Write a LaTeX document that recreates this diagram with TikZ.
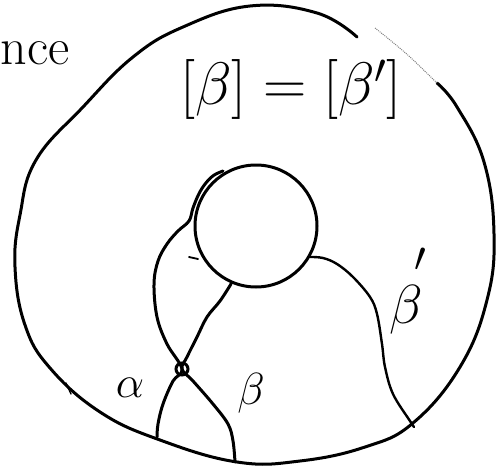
\RequirePackage{fix-cm}
\documentclass[tikz,border=0pt]{standalone}
\begin{document}
\begin{tikzpicture}[x=1pt,y=-1pt,
  stroke/.style={line width=3pt, line cap=round, line join=round},
  thinstroke/.style={line width=2.4pt, line cap=round, line join=round},
  faint/.style={line width=1pt, gray, densely dotted},
  lbl/.style={inner sep=0pt, outer sep=0pt}]
\useasboundingbox (0,0) rectangle (500,468);
% outer boundary
\draw[stroke] plot[smooth, tension=0.7] coordinates {
 (357,37) (317,13) (250,6) (183,27) (133,57) (83,107) (36,160) (20,215)
 (15,267) (25,325) (50,368) (100,412) (160,440) (237,462) (300,461)
 (365,447) (413,423) (460,367) (487,300) (494,234) (484,162) (457,107) (437,83)};
\draw[faint] plot[smooth] coordinates {(437,83) (410,57) (390,40) (375,28)};
\draw[line width=1.4pt, line cap=round] (66,383) -- (71,394);
% inner hole
\node[circle, draw, stroke, minimum size=122pt, inner sep=0pt] (hole) at (256,226) {};
\draw[line width=1.8pt, line cap=round] (198,259) -- (189,257);
% crossing point
\node[circle, draw, line width=3pt, minimum size=12pt, inner sep=0pt] (x) at (182,369) {};
% alpha
\draw[stroke] plot[smooth, tension=0.6] coordinates {
 (157,437) (158,424) (163,404) (173,381) (x.center) (167,344) (157,317)
 (154,284) (158,261) (167,244) (178,231) (189,221) (193,208) (198.8,194)
 (205.4,183.6) (213.6,175.4) (223,171)};
% beta
\draw[stroke] plot[smooth, tension=0.6] coordinates {
 (235,462) (233,441) (228,424) (213,404) (193,381) (x.center) (187,357)
 (197,337) (207,317) (220,301) (231,284)};
% beta'
\draw[thinstroke] plot[smooth, tension=0.6] coordinates {
 (310,257) (323,258) (337,264) (353,277) (370,297) (377,314) (382,344)
 (385,367) (393,394) (410,421) (414,427)};
% labels
\node[lbl, anchor=base west] (nce) at (1,65) {\fontsize{52}{56}\selectfont nce};
\node[lbl, anchor=base] (eq) at (291,105) {\fontsize{60}{70}\selectfont$[\beta]=[\beta']$};
\node[lbl] (la) at (130,388) {\fontsize{45}{50}\selectfont$\alpha$};
\node[lbl] (lb) at (251,393) {\fontsize{45}{50}\selectfont$\beta$};
\node[lbl] (lbp) at (406,310) {\fontsize{55}{60}\selectfont$\beta$};
\node[lbl] (lbpr) at (420,260) {\fontsize{42}{50}\selectfont$\prime$};
\end{tikzpicture}
\end{document}
